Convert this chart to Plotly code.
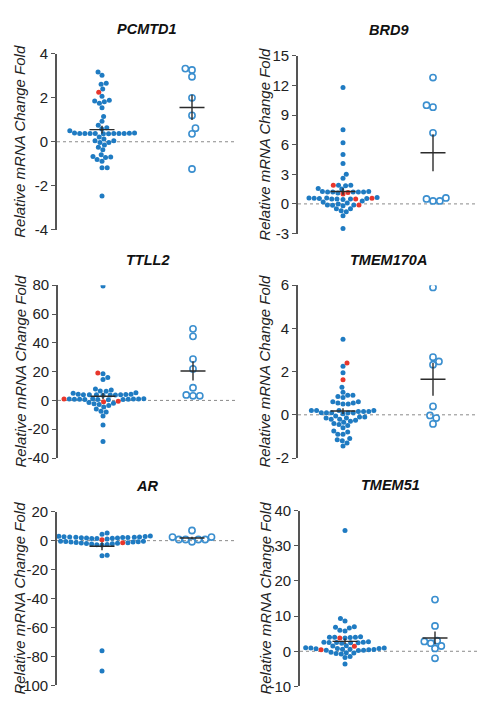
import math
import plotly.graph_objects as go

# ---------------- data ----------------
genes = ["PCMTD1", "BRD9", "TTLL2", "TMEM170A", "AR", "TMEM51"]

pcmtd1_blue = [3.18, 3.03, 2.66, 2.62, 2.40, 2.07, 1.89, 1.82, 1.85, 1.75, 1.55, 1.15, 0.93,
               0.75, 0.64, 0.58, 0.50, 0.40, 0.38, 0.38, 0.37, 0.38, 0.36, 0.37, 0.38, 0.36,
               0.37, 0.39, 0.40, 0.12, 0.04, -0.03, -0.03, 0.04, 0.22, -0.15, -0.37, -0.25,
               -0.59, -0.70, -0.81, -0.89, -0.72, -0.67, -1.18, -1.18, -2.47]
pcmtd1_red = [2.25]
pcmtd1_open = [3.33, 3.27, 2.96, 2.0, 1.2, 0.62, 0.36, -1.24]

brd9_blue = [11.8, 7.5, 6.2, 5.0, 4.1, 3.0, 2.6, 1.85, 1.9, 1.9, 1.5, 1.55, 1.25, 1.1, 1.2,
             1.2, 1.2, 1.2, 1.2, 1.25, 0.66, 0.56, 0.6, 0.5, 0.55, 0.55, 0.6, 0.5, 0.45, 0.5,
             -0.1, -0.15, 0.0, 0.1, -0.1, -0.2, -0.5, -0.7, -0.5, -0.8, -1.2, -2.5, 0.3, 0.2]
brd9_red = [1.9, 1.15, 1.0, 0.56, 0.5, -0.1]
brd9_open = [12.8, 9.8, 10.0, 7.2, 0.5, 0.3, 0.3, 0.6]

ttll2_blue = [79.5, 18.6, 15.9, 14.5, 7.9, 6.4, 5.4, 6.6, 7.2, 5.0,
              4.2, 4.0, 3.8, 3.6, 3.9, 4.1, 3.7, 4.0, 4.2, 4.0,
              1.2, 1.0, 0.8, 0.8, 0.6, 0.4, 0.9, 0.7, 0.6, 0.8, 1.0, 1.2,
              -1.5, -2.3, -2.0, -2.8, -3.5, -4.5, -6.0, -7.5, -8.0, -10.8, -17.0, -28.5]
ttll2_red = [19.0, -0.6, -0.9, 1.0]
ttll2_open = [49.7, 44.5, 28.7, 21.9, 8.8, 3.8, 3.2, 3.2]

tmem170a_blue = [3.5, 2.25, 1.95, 1.28, 1.05, 0.9, 0.8, 0.85, 0.9, 0.6, 0.5, 0.55, 0.5, 0.6, 0.55,
                 0.2, 0.1, 0.1, 0.15, 0.05, 0.2, 0.1, 0.2, 0.1, 0.15, 0.1, 0.15, 0.2,
                 -0.2, -0.25, -0.15, -0.1, -0.05, -0.1, -0.2, -0.15,
                 -0.4, -0.5, -0.35, -0.3, -0.45,
                 -0.75, -0.9, -0.9, -0.8, -0.6,
                 -1.15, -1.3, -1.2, -1.1, -1.45]
tmem170a_red = [2.4, 1.62]
tmem170a_open = [5.9, 2.67, 2.47, 2.32, 0.39, -0.03, -0.15, -0.42]

ar_blue = [-76.0, -90.0, -10.0, -10.5, 5.2, 4.5, 3.2, 3.6,
           -3.0, -2.8, -2.6, -2.4, -2.2, -2.0, -1.8, -1.6, -1.4, -1.2, -1.0, -0.9,
           -0.8, -0.6, -0.5, -0.4,
           1.2, 1.4, 1.5, 1.6, 1.8, 1.9, 2.0, 2.1, 2.2, 2.3, 2.4, 2.5, 2.6, 2.7, 2.8, 3.0]
ar_red = [-1.5, 0.6]
ar_open = [2.5, 0.8, 0.8, 7.0, -0.8, 0.8, 0.8, 2.5]

tmem51_blue = [34.4, 9.3, 8.6, 7.0, 6.6, 6.0, 6.8, 5.8,
               4.0, 3.9, 4.1, 4.0, 3.8, 4.0,
               2.6, 2.4, 2.7, 2.5, 2.3, 2.5, 2.4, 2.6, 1.6, 1.5,
               0.9, 0.8, 0.6, 0.4, 0.3, 0.2, 0.3, 0.5, 0.6, 0.7, 0.8, 0.9, 1.0,
               -0.4, -0.6, -0.8, -0.5, -0.3, -1.8, -1.5, -3.6]
tmem51_red = [3.8, 1.4, 0.4]
tmem51_open = [14.7, 7.2, 3.0, 2.8, 1.5, 0.8, 2.3, -2.0]

blue_sets = [pcmtd1_blue, brd9_blue, ttll2_blue, tmem170a_blue, ar_blue, tmem51_blue]
red_sets = [pcmtd1_red, brd9_red, ttll2_red, tmem170a_red, ar_red, tmem51_red]
open_sets = [pcmtd1_open, brd9_open, ttll2_open, tmem170a_open, ar_open, tmem51_open]

y_ranges = [(-4, 4), (-3, 15), (-40, 80), (-2, 6), (-100, 20), (-10, 40)]
y_dticks = [2, 3, 20, 2, 20, 10]

# ---------------- layout geometry (pixels) ----------------
W, H = 493, 711
# (x0, x1, ytop, ybottom, title offset) of each plot area
boxes = [(57, 237, 46, 226, 37), (298, 478, 48, 230, 33),
         (58, 238, 283, 460, 37), (298, 478, 283, 460, 33),
         (57, 237, 515, 693, 37), (300, 480, 514, 694, 34)]
X_RANGE = (0.5, 2.5)

BLUE = "#1f7bc2"
RED = "#e8372c"
OPEN = "#3b8fcf"
LINE = "#2b2b2b"
AXIS = "#555555"
FONT = "Liberation Sans, Arial, sans-serif"
DOT = 5.2


def swarm(vals, px_per_unit, d):
    """greedy beeswarm: horizontal pixel offsets so dots don't overlap"""
    ys = [v * px_per_unit for v in vals]
    order = sorted(range(len(vals)), key=lambda i: ys[i])
    placed = []
    xs = [0.0] * len(vals)
    side = 1
    for i in order:
        y = ys[i]
        near = [(px, py) for px, py in placed if abs(py - y) < d]
        cands = [0.0]
        for px, py in near:
            dx = math.sqrt(max(d * d - (py - y) ** 2, 0))
            cands += [px + dx, px - dx]
        cands.sort(key=lambda c: (round(abs(c), 3), -side * c))
        for c in cands:
            if all((c - px) ** 2 + (y - py) ** 2 >= d * d - 1e-6 for px, py in near):
                xs[i] = c
                break
        if xs[i] != 0:
            side = -1 if xs[i] > 0 else 1
        placed.append((xs[i], y))
    return xs


def mean_sem(vals):
    n = len(vals)
    m = sum(vals) / n
    sd = math.sqrt(sum((v - m) ** 2 for v in vals) / (n - 1))
    return m, sd / math.sqrt(n)


def fmt(v):
    return ("-%d" % -v) if v < 0 else "%d" % v


fig = go.Figure()
annotations = []
shapes = []

for k in range(6):
    x0, x1, yt, yb, toff = boxes[k]
    ymin, ymax = y_ranges[k]
    ppu_y = (yb - yt) / (ymax - ymin)
    ppu_x = (x1 - x0) / (X_RANGE[1] - X_RANGE[0])
    ax = "" if k == 0 else str(k + 1)
    xa, ya = "x" + ax, "y" + ax

    # group 1: filled dots (blue + red)
    g1 = blue_sets[k] + red_sets[k]
    is_red = [False] * len(blue_sets[k]) + [True] * len(red_sets[k])
    off = swarm(g1, ppu_y, DOT)
    gx = [1 + o / ppu_x for o in off]
    fig.add_trace(go.Scatter(
        x=[gx[i] for i in range(len(g1)) if not is_red[i]],
        y=[g1[i] for i in range(len(g1)) if not is_red[i]],
        mode="markers", marker=dict(size=5.0, color=BLUE, line=dict(width=0)),
        xaxis=xa, yaxis=ya, showlegend=False, hoverinfo="y"))
    fig.add_trace(go.Scatter(
        x=[gx[i] for i in range(len(g1)) if is_red[i]],
        y=[g1[i] for i in range(len(g1)) if is_red[i]],
        mode="markers", marker=dict(size=5.0, color=RED, line=dict(width=0)),
        xaxis=xa, yaxis=ya, showlegend=False, hoverinfo="y"))

    # group 2: open circles
    g2 = open_sets[k]
    off2 = swarm(g2, ppu_y, 6.8)
    fig.add_trace(go.Scatter(
        x=[2 + o / ppu_x for o in off2], y=g2,
        mode="markers", marker=dict(size=6.2, color="rgba(255,255,255,0)",
                                    line=dict(width=1.6, color=OPEN)),
        xaxis=xa, yaxis=ya, showlegend=False, hoverinfo="y"))

    # mean +/- SEM
    half = 12.5 / ppu_x
    for gxc, vals in ((1, g1), (2, g2)):
        m, s = mean_sem(vals)
        fig.add_trace(go.Scatter(
            x=[gxc - half, gxc + half, None, gxc, gxc],
            y=[m, m, None, m - s, m + s],
            mode="lines", line=dict(color=LINE, width=1.4),
            xaxis=xa, yaxis=ya, showlegend=False, hoverinfo="skip"))

    tv = list(range(ymin, ymax + 1, y_dticks[k]))
    dom_x = [x0 / W, x1 / W]
    dom_y = [1 - yb / H, 1 - yt / H]
    fig.update_layout(**{
        "xaxis" + ax: dict(domain=dom_x, range=list(X_RANGE), visible=False,
                           anchor=ya),
        "yaxis" + ax: dict(domain=dom_y, range=[ymin, ymax],
                           tickvals=tv, ticktext=[fmt(v) for v in tv],
                           showgrid=False, zeroline=False, showline=True,
                           linecolor=AXIS, linewidth=1.6, ticks="outside",
                           ticklen=4, tickwidth=1.4, tickcolor=AXIS,
                           tickfont=dict(size=15, color="#222", family=FONT),
                           anchor=xa),
    })

    shapes.append(dict(type="line", xref=xa + " domain", yref=ya,
                       x0=0, x1=1, y0=0, y1=0,
                       line=dict(color="#8a8a8a", width=1, dash="dot"),
                       layer="below"))

    annotations.append(dict(text="<b><i>%s</i></b>" % genes[k],
                            x=(x0 + x1) / 2 / W, y=1 - (yt - 26) / H,
                            xref="paper", yref="paper", showarrow=False,
                            xanchor="center", yanchor="middle",
                            font=dict(size=14.5, color="#111", family=FONT)))
    annotations.append(dict(text="<i>Relative mRNA Change Fold</i>",
                            x=(x0 - toff) / W, y=1 - (yt + yb) / 2 / H,
                            xref="paper", yref="paper", showarrow=False,
                            textangle=-90, xanchor="center", yanchor="middle",
                            font=dict(size=15, color="#222", family=FONT)))

fig.update_layout(width=W, height=H, margin=dict(l=0, r=0, t=0, b=0),
                  paper_bgcolor="white", plot_bgcolor="white",
                  annotations=annotations, shapes=shapes,
                  font=dict(family=FONT))

fig.write_html("out.html", config={"displayModeBar": False},
               post_script="document.body.style.margin='0';"
                           "document.body.style.overflow='hidden';")
